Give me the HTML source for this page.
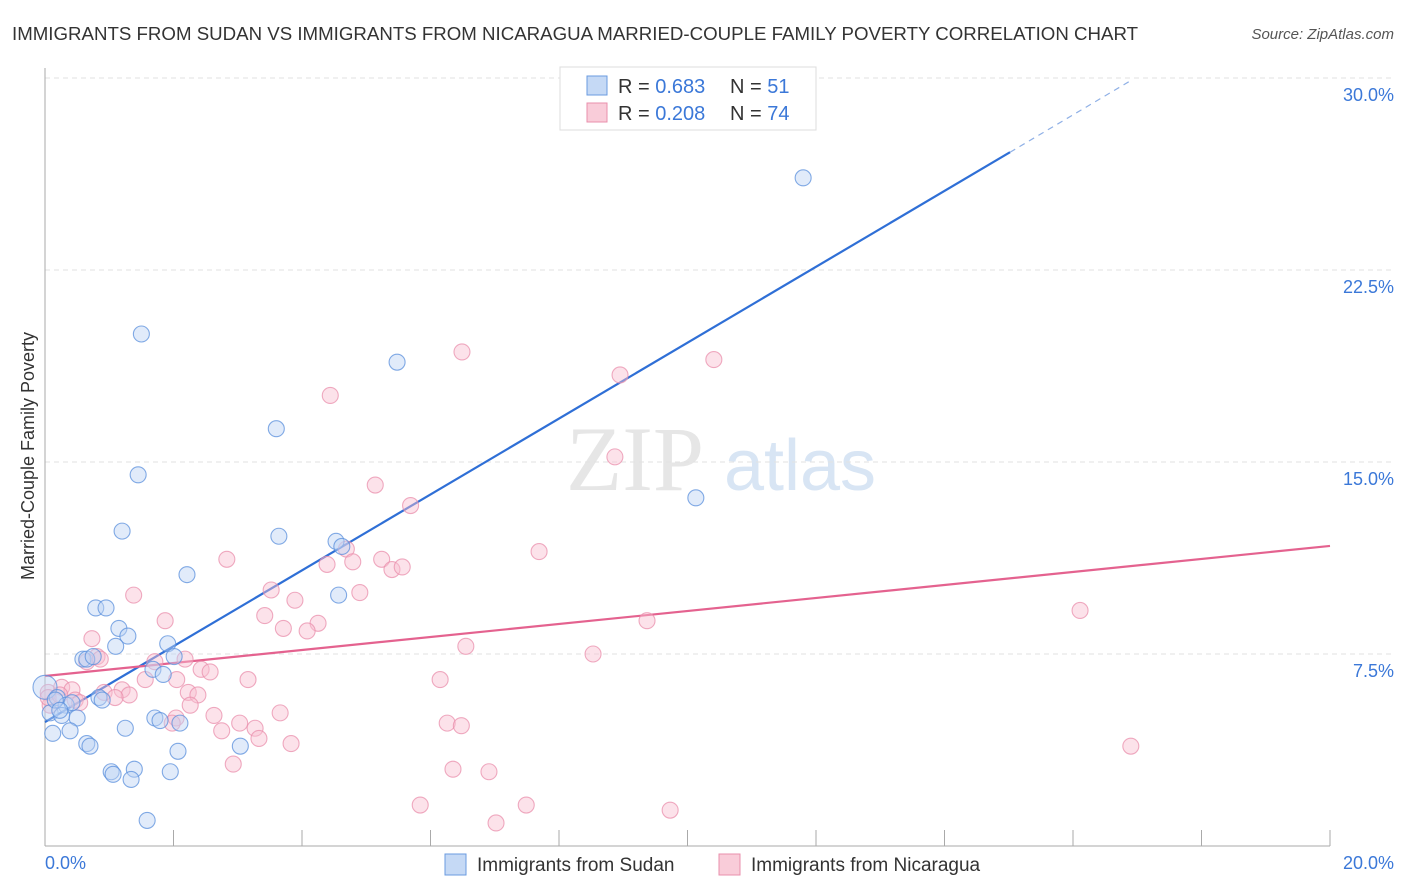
<!DOCTYPE html>
<html><head><meta charset="utf-8"><style>
body{margin:0;background:#fff;font-family:"Liberation Sans",sans-serif;}
svg{display:block}
</style></head><body>
<svg id="c" width="1406" height="892" xmlns="http://www.w3.org/2000/svg">
<text x="12" y="40" font-size="18" fill="#333" textLength="1126" lengthAdjust="spacingAndGlyphs">IMMIGRANTS FROM SUDAN VS IMMIGRANTS FROM NICARAGUA MARRIED-COUPLE FAMILY POVERTY CORRELATION CHART</text>
<text x="1394" y="39" font-size="15" fill="#555" font-style="italic" text-anchor="end">Source: ZipAtlas.com</text>
<g><text x="635" y="490" font-size="92" fill="#e6e6e6" font-family="Liberation Serif,serif" text-anchor="middle">ZIP</text><text x="800" y="490" font-size="72" fill="#d8e5f4" text-anchor="middle">atlas</text></g>
<g id="grid"></g><g id="axes"></g><g id="lines"></g><g id="pts"></g>
<text transform="translate(34,456) rotate(-90)" font-size="18" fill="#333" text-anchor="middle">Married-Couple Family Poverty</text>
<text x="45" y="869" font-size="18" fill="#3b78d8">0.0%</text>
<text x="1394" y="869" font-size="18" fill="#3b78d8" text-anchor="end">20.0%</text>
<g>
<rect x="560" y="67" width="256" height="63" fill="#fff" stroke="#ddd"/>
<rect x="587" y="76" width="20" height="19" fill="#c5d9f5" stroke="#6a9be0"/>
<rect x="587" y="103" width="20" height="19" fill="#f9ccd9" stroke="#e98fac"/>
<text x="618" y="93" font-size="20" fill="#333">R = <tspan fill="#3b78d8">0.683</tspan><tspan x="730">N = </tspan><tspan fill="#3b78d8">51</tspan></text>
<text x="618" y="120" font-size="20" fill="#333">R = <tspan fill="#3b78d8">0.208</tspan><tspan x="730">N = </tspan><tspan fill="#3b78d8">74</tspan></text>
</g>
<g>
<rect x="445" y="854" width="21" height="21" fill="#c5d9f5" stroke="#6a9be0"/>
<text x="477" y="871" font-size="19" fill="#333">Immigrants from Sudan</text>
<rect x="719" y="854" width="21" height="21" fill="#f9ccd9" stroke="#e98fac"/>
<text x="751" y="871" font-size="19" fill="#333">Immigrants from Nicaragua</text>
</g>
</svg>
<script>
const yTicks=[7.5,15,22.5,30];
const yTickLabels=["7.5%","15.0%","22.5%","30.0%"];
const xTicks=[0,2,4,6,8,10,12,14,16,18,20];
const sudanX=[11.8,1.5,5.48,3.6,1.45,10.13,1.2,3.64,4.53,4.62,2.21,4.57,0.79,0.95,1.15,1.29,1.1,1.91,2.01,0.59,0.65,0.75,1.68,1.84,0,0.19,0.84,0.89,0.33,0.42,0.08,0.26,0.5,1.71,1.79,2.1,1.25,0.39,0.12,0.65,0.7,2.07,3.04,1.03,1.06,1.39,1.34,1.95,1.59,0.16,0.23];
const sudanY=[26.1,20.0,18.9,16.3,14.5,13.6,12.3,12.1,11.9,11.7,10.6,9.8,9.3,9.3,8.5,8.2,7.8,7.9,7.4,7.3,7.3,7.4,6.9,6.7,6.2,5.8,5.8,5.7,5.5,5.6,5.2,5.1,5.0,5.0,4.9,4.8,4.6,4.5,4.4,4.0,3.9,3.7,3.9,2.9,2.8,3.0,2.6,2.9,1.0,5.7,5.3];
const nicX=[6.49,10.41,8.95,4.44,8.87,5.14,5.69,7.69,2.83,4.69,5.24,4.39,4.79,5.4,5.56,3.52,4.9,1.38,3.89,3.42,1.87,4.25,3.71,4.08,0.73,6.55,9.37,8.53,16.11,0.81,0.65,1.71,2.18,1.56,2.05,2.43,2.57,3.16,6.15,0.05,0.26,0.42,0.92,1.2,1.31,1.09,2.23,2.38,0.47,0.54,0.08,2.26,2.63,3.66,3.03,2.75,3.27,3.33,6.26,6.48,3.83,2.04,1.98,2.93,6.35,6.91,5.84,7.49,7.02,9.73,16.9,0.05,0.23,0.86];
const nicY=[19.3,19.0,18.4,17.6,15.2,14.1,13.3,11.5,11.2,11.6,11.2,11.0,11.1,10.8,10.9,10.0,9.9,9.8,9.6,9.0,8.8,8.7,8.5,8.4,8.1,7.8,8.8,7.5,9.2,7.4,7.2,7.2,7.3,6.5,6.5,6.9,6.8,6.5,6.5,6.0,6.2,6.1,6.0,6.1,5.9,5.8,6.0,5.9,5.7,5.6,5.5,5.5,5.1,5.2,4.8,4.5,4.6,4.2,4.8,4.7,4.0,5.0,4.8,3.2,3.0,2.9,1.6,1.6,0.9,1.4,3.9,5.8,5.9,7.3];
const blueLine=[0,4.84,15.02,27.1,16.9,29.9];
const pinkLine=[0,6.64,20,11.72];
const NS="http://www.w3.org/2000/svg";
const X=v=>45+v/20*1285, Y=v=>846-v*25.6;
function mk(t,a,p){const e=document.createElementNS(NS,t);for(const k in a)e.setAttribute(k,a[k]);document.getElementById(p).appendChild(e);return e;}
yTicks.forEach((t,i)=>{
 const l=mk('line',{x1:45,x2:1394,y1:Y(t),y2:Y(t),stroke:'#e2e2e2','stroke-dasharray':'5,4'},'grid');
 
 
 const tx=mk('text',{x:1394,y:Y(t)+23,'font-size':18,fill:'#3b78d8','text-anchor':'end'},'grid');
 tx.textContent=yTickLabels[i];
 
 
});
const ya=mk('line',{x1:45,x2:45,y1:68,y2:846,stroke:'#aaa'},'axes');


const xa=mk('line',{x1:45,x2:1330,y1:846,y2:846,stroke:'#aaa'},'axes');


xTicks.forEach(t=>{const l=mk('line',{x1:X(t),x2:X(t),y1:830,y2:846,stroke:'#aaa'},'axes');
 
 });
function pts(xs,ys,fill,stroke,name){xs.forEach((x,i)=>{const c=mk('circle',{cx:X(x),cy:Y(ys[i]),r:(x===0?12:8),fill:fill,'fill-opacity':0.45,stroke:stroke,'stroke-opacity':0.75,'stroke-width':1.1},'pts');
 
 });}
pts(nicX,nicY,'#f8bfd0','#e98fac','nicaragua-point');
pts(sudanX,sudanY,'#bcd3f3','#5a8fdc','sudan-point');
const bl=mk('line',{x1:X(blueLine[0]),y1:Y(blueLine[1]),x2:X(blueLine[2]),y2:Y(blueLine[3]),stroke:'#2f6fd6','stroke-width':2.2},'lines');


const bd=mk('line',{x1:X(blueLine[2]),y1:Y(blueLine[3]),x2:X(blueLine[4]),y2:Y(blueLine[5]),stroke:'#8fb0e6','stroke-width':1.2,'stroke-dasharray':'6,5'},'lines');


const pl=mk('line',{x1:X(pinkLine[0]),y1:Y(pinkLine[1]),x2:X(pinkLine[2]),y2:Y(pinkLine[3]),stroke:'#e4628f','stroke-width':2.2},'lines');


</script>
</body></html>
